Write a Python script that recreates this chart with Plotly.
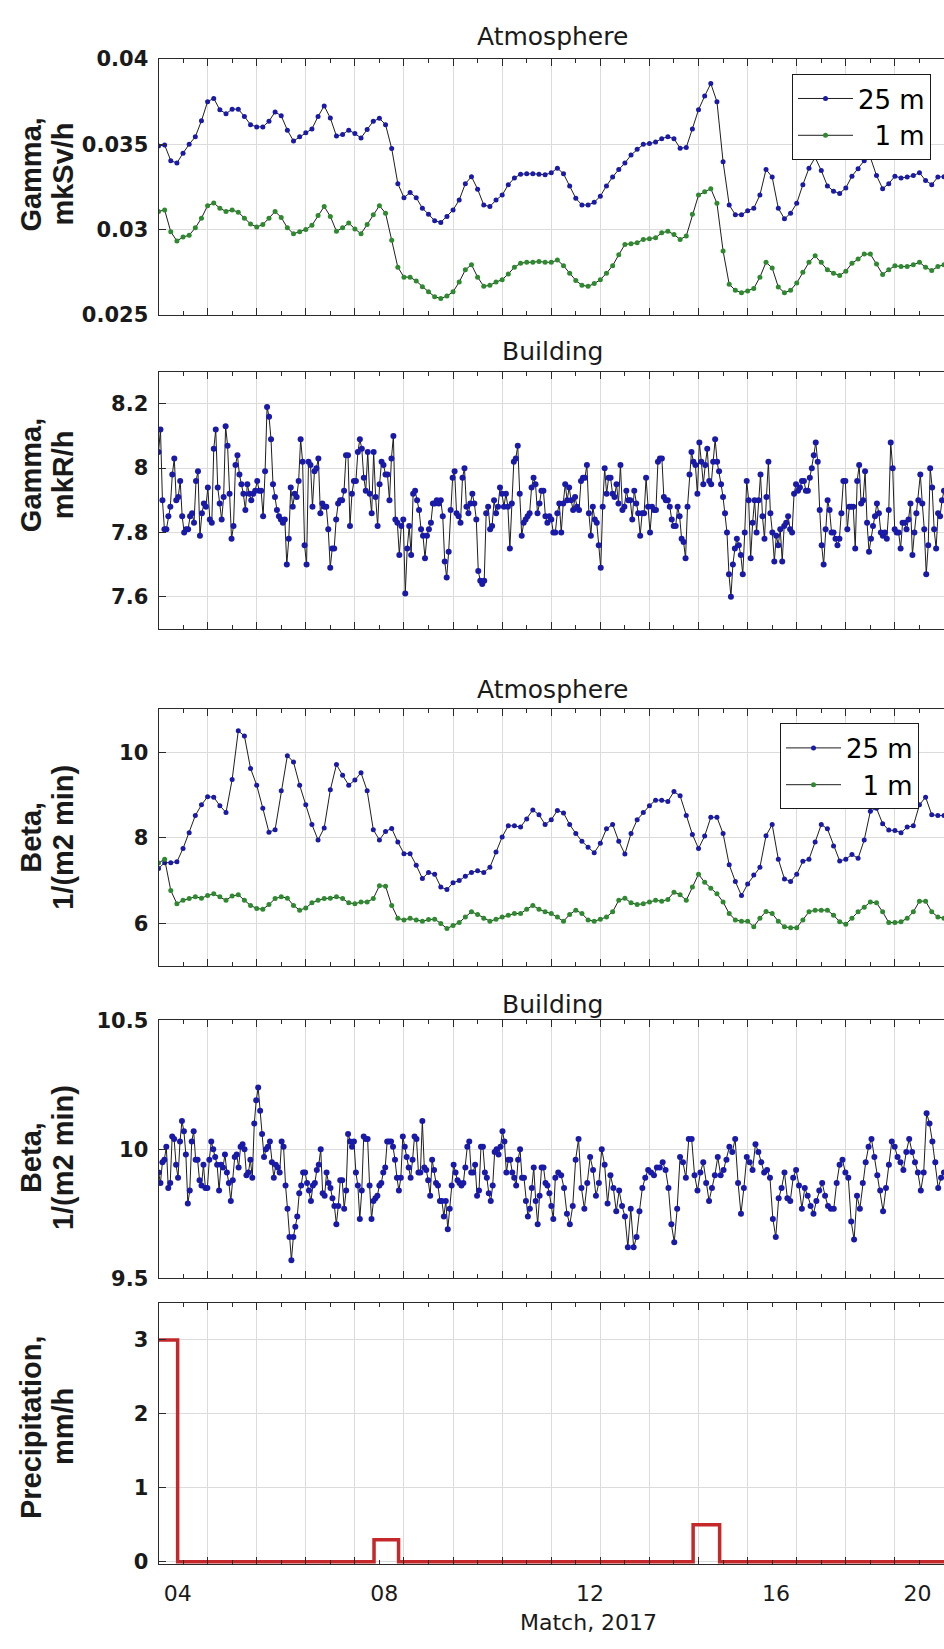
import numpy as np
import plotly.graph_objects as go

# ---------------- data ----------------
# 3-hourly series (days from the left edge, 0.125 d step)
gamma_atm_25m = [
    0.03490, 0.03496, 0.03404, 0.03390, 0.03448, 0.03500, 0.03544, 0.03638, 0.03750, 0.03769,
    0.03702, 0.03679, 0.03706, 0.03706, 0.03663, 0.03615, 0.03602, 0.03602, 0.03635, 0.03690,
    0.03667, 0.03583, 0.03519, 0.03544, 0.03567, 0.03590, 0.03663, 0.03725, 0.03654, 0.03548,
    0.03558, 0.03583, 0.03563, 0.03537, 0.03587, 0.03635, 0.03652, 0.03615, 0.03475, 0.03269,
    0.03187, 0.03217, 0.03187, 0.03125, 0.03090, 0.03052, 0.03042, 0.03077, 0.03115, 0.03173,
    0.03269, 0.03310, 0.03237, 0.03144, 0.03135, 0.03173, 0.03202, 0.03263, 0.03302, 0.03325,
    0.03327, 0.03327, 0.03325, 0.03321, 0.03333, 0.03360, 0.03327, 0.03256, 0.03183, 0.03144,
    0.03144, 0.03160, 0.03196, 0.03256, 0.03308, 0.03352, 0.03390, 0.03437, 0.03471, 0.03500,
    0.03504, 0.03513, 0.03533, 0.03544, 0.03533, 0.03477, 0.03481, 0.03590, 0.03702, 0.03783,
    0.03856, 0.03750, 0.03398, 0.03144, 0.03087, 0.03087, 0.03110, 0.03125, 0.03202, 0.03352,
    0.03308, 0.03125, 0.03063, 0.03096, 0.03154, 0.03263, 0.03360, 0.03423, 0.03346, 0.03256,
    0.03225, 0.03212, 0.03244, 0.03313, 0.03356, 0.03404, 0.03423, 0.03317, 0.03240, 0.03269,
    0.03313, 0.03302, 0.03308, 0.03317, 0.03333, 0.03288, 0.03263, 0.03308, 0.03310]
gamma_atm_1m = [
    0.03106, 0.03115, 0.02987, 0.02933, 0.02956, 0.02967, 0.03010, 0.03067, 0.03140, 0.03156,
    0.03125, 0.03106, 0.03115, 0.03102, 0.03067, 0.03033, 0.03015, 0.03029, 0.03067, 0.03106,
    0.03071, 0.03010, 0.02975, 0.02987, 0.03000, 0.03025, 0.03083, 0.03135, 0.03077, 0.02990,
    0.03010, 0.03038, 0.03004, 0.02975, 0.03029, 0.03087, 0.03140, 0.03096, 0.02937, 0.02779,
    0.02721, 0.02721, 0.02698, 0.02664, 0.02635, 0.02606, 0.02596, 0.02610, 0.02635, 0.02692,
    0.02764, 0.02794, 0.02721, 0.02667, 0.02673, 0.02692, 0.02706, 0.02740, 0.02779, 0.02802,
    0.02808, 0.02808, 0.02813, 0.02808, 0.02808, 0.02821, 0.02788, 0.02744, 0.02702, 0.02673,
    0.02667, 0.02683, 0.02706, 0.02744, 0.02788, 0.02852, 0.02913, 0.02917, 0.02923, 0.02942,
    0.02946, 0.02952, 0.02981, 0.02990, 0.02971, 0.02942, 0.02962, 0.03090, 0.03202, 0.03221,
    0.03240, 0.03154, 0.02875, 0.02679, 0.02644, 0.02629, 0.02640, 0.02654, 0.02721, 0.02808,
    0.02775, 0.02663, 0.02629, 0.02644, 0.02687, 0.02750, 0.02808, 0.02846, 0.02808, 0.02764,
    0.02744, 0.02731, 0.02756, 0.02802, 0.02827, 0.02856, 0.02856, 0.02798, 0.02737, 0.02764,
    0.02788, 0.02783, 0.02783, 0.02794, 0.02808, 0.02779, 0.02760, 0.02783, 0.02794]
beta_atm_25m = [
    7.28, 7.42, 7.42, 7.44, 7.75, 8.12, 8.52, 8.77, 8.96, 8.95,
    8.75, 8.59, 9.36, 10.50, 10.38, 9.62, 9.23, 8.69, 8.13, 8.19,
    9.10, 9.92, 9.77, 9.23, 8.77, 8.31, 7.95, 8.23, 9.12, 9.71,
    9.46, 9.23, 9.35, 9.52, 9.10, 8.19, 7.95, 8.15, 8.22, 7.90,
    7.63, 7.63, 7.36, 7.05, 7.19, 7.15, 6.85, 6.79, 6.95, 7.00,
    7.10, 7.19, 7.23, 7.19, 7.31, 7.67, 8.02, 8.28, 8.28, 8.25,
    8.44, 8.65, 8.54, 8.31, 8.42, 8.64, 8.58, 8.31, 8.10, 7.92,
    7.78, 7.65, 7.87, 8.21, 8.31, 7.92, 7.62, 8.10, 8.42, 8.59,
    8.75, 8.88, 8.88, 8.85, 9.08, 8.98, 8.52, 8.08, 7.75, 8.04,
    8.48, 8.48, 8.10, 7.37, 6.98, 6.65, 6.92, 7.13, 7.31, 8.05,
    8.31, 7.50, 7.04, 6.98, 7.15, 7.45, 7.50, 7.90, 8.31, 8.21,
    7.81, 7.46, 7.50, 7.61, 7.52, 7.95, 8.62, 8.69, 8.33, 8.18,
    8.17, 8.12, 8.25, 8.28, 8.77, 8.95, 8.54, 8.52, 8.52]
beta_atm_1m = [
    7.41, 7.50, 6.77, 6.46, 6.54, 6.58, 6.62, 6.59, 6.65, 6.69,
    6.62, 6.54, 6.64, 6.67, 6.54, 6.42, 6.35, 6.33, 6.44, 6.58,
    6.62, 6.59, 6.42, 6.31, 6.36, 6.48, 6.54, 6.58, 6.59, 6.62,
    6.58, 6.48, 6.46, 6.50, 6.50, 6.58, 6.88, 6.87, 6.42, 6.12,
    6.08, 6.12, 6.08, 6.05, 6.09, 6.10, 6.00, 5.88, 5.95, 6.02,
    6.15, 6.27, 6.21, 6.12, 6.05, 6.10, 6.15, 6.19, 6.23, 6.23,
    6.33, 6.42, 6.33, 6.27, 6.23, 6.15, 6.05, 6.21, 6.31, 6.23,
    6.08, 6.05, 6.10, 6.15, 6.27, 6.54, 6.59, 6.48, 6.44, 6.46,
    6.50, 6.54, 6.52, 6.56, 6.73, 6.67, 6.54, 6.85, 7.15, 6.96,
    6.82, 6.69, 6.50, 6.23, 6.08, 6.05, 6.05, 5.92, 6.12, 6.28,
    6.23, 6.05, 5.92, 5.90, 5.90, 6.08, 6.27, 6.31, 6.31, 6.31,
    6.19, 6.04, 5.98, 6.12, 6.27, 6.38, 6.50, 6.48, 6.27, 6.02,
    6.02, 6.04, 6.12, 6.27, 6.52, 6.52, 6.27, 6.15, 6.12]

# hourly building series (first and second half of the period)
gamma_bld_a = [
    8.05, 8.12, 7.90, 7.81, 7.81, 7.85, 7.88, 7.98, 8.03, 7.90,
    7.91, 7.96, 7.85, 7.80, 7.81, 7.81, 7.85, 7.86, 7.83, 7.96,
    7.99, 7.79, 7.86, 7.89, 7.88, 7.94, 7.84, 7.83, 8.06, 8.12,
    7.94, 7.89, 7.84, 7.91, 8.13, 8.07, 7.92, 7.78, 7.82, 8.01,
    8.04, 7.98, 7.95, 7.92, 7.87, 7.95, 7.92, 7.90, 7.92, 7.93,
    7.96, 7.93, 7.93, 7.85, 7.99, 8.19, 8.16, 8.09, 7.95, 7.91,
    7.87, 7.85, 7.84, 7.83, 7.84, 7.70, 7.78, 7.94, 7.88, 7.92,
    7.91, 7.96, 8.09, 8.02, 7.76, 7.70, 8.02, 8.01, 7.88, 7.99,
    8.00, 8.03, 7.86, 7.89, 7.88, 7.88, 7.81, 7.69, 7.75, 7.75,
    7.84, 7.89, 7.90, 7.90, 7.93, 8.04, 8.04, 7.82, 7.92, 7.96,
    7.96, 8.05, 8.09, 8.06, 7.97, 7.93, 8.05, 7.92, 7.86, 8.05,
    7.91, 7.82, 7.95, 8.02, 8.01, 7.98, 7.98, 7.90, 8.03, 8.10,
    7.84, 7.83, 7.73, 7.82, 7.84, 7.61, 7.75, 7.82, 7.73, 7.92,
    7.93, 7.90, 7.87, 7.81, 7.79, 7.72, 7.79, 7.81, 7.83, 7.89,
    7.89, 7.90, 7.89, 7.90, 7.85, 7.71, 7.66, 7.74, 7.87, 7.97,
    7.99, 7.86, 7.85, 7.83, 7.97, 8.00, 7.88, 7.86, 7.89, 7.92,
    7.89, 7.84, 7.68, 7.65, 7.64, 7.65, 7.86, 7.88, 7.81, 7.82,
    7.90, 7.86, 7.88, 7.94, 7.92, 7.88, 7.92, 7.88, 7.75, 7.89,
    8.02, 8.03, 8.07, 7.92, 7.79, 7.83, 7.84, 7.85, 7.86, 7.94,
    7.97, 7.95, 7.86, 7.89, 7.93, 7.93, 7.85, 7.83, 7.85, 7.84,
    7.80]
gamma_bld_b = [
    7.80, 7.86, 7.89, 7.80, 7.89, 7.95, 7.90, 7.94, 7.90, 7.87,
    7.91, 7.88, 7.87, 7.96, 7.97, 7.97, 8.01, 7.86, 7.79, 7.88,
    7.84, 7.83, 7.76, 7.69, 7.88, 8.00, 7.92, 7.97, 7.97, 7.92,
    7.91, 7.95, 7.89, 8.01, 7.87, 7.88, 7.93, 7.90, 7.90, 7.84,
    7.93, 7.89, 7.86, 7.79, 7.86, 7.86, 7.97, 7.88, 7.80, 7.88,
    7.87, 7.87, 8.02, 8.03, 8.03, 7.91, 7.90, 7.90, 7.88, 7.84,
    7.82, 7.82, 7.88, 7.85, 7.78, 7.77, 7.72, 7.88, 7.98, 8.05,
    8.02, 8.01, 7.92, 8.08, 8.02, 7.95, 8.01, 8.06, 7.96, 7.95,
    8.02, 8.09, 8.02, 7.99, 7.95, 7.91, 7.86, 7.80, 7.67, 7.60,
    7.70, 7.75, 7.78, 7.76, 7.73, 7.67, 7.80, 7.96, 7.90, 7.72,
    7.83, 7.90, 7.80, 7.90, 7.98, 7.85, 7.78, 7.91, 8.02, 7.86,
    7.80, 7.71, 7.79, 7.76, 7.81, 7.71, 7.82, 7.83, 7.85, 7.81,
    7.80, 7.92, 7.95, 7.93, 7.94, 7.96, 7.96, 7.93, 7.93, 7.97,
    8.00, 8.04, 8.08, 8.02, 7.87, 7.76, 7.70, 7.81, 7.90, 7.87,
    7.80, 7.80, 7.78, 7.76, 7.78, 7.86, 7.96, 7.96, 7.81, 7.88,
    7.88, 7.88, 7.75, 7.96, 8.01, 7.89, 7.90, 7.99, 7.83, 7.74,
    7.78, 7.82, 7.85, 7.89, 7.86, 7.80, 7.79, 7.80, 7.78, 7.87,
    8.08, 8.00, 7.81, 7.80, 7.80, 7.75, 7.83, 7.83, 7.81, 7.84,
    7.89, 7.73, 7.80, 7.86, 7.90, 7.98, 7.89, 7.81, 7.67, 7.76,
    8.00, 7.94, 7.81, 7.75, 7.86, 7.85, 7.90, 7.93]
beta_bld_a = [
    9.91, 9.87, 9.95, 9.96, 10.01, 9.85, 9.87, 10.05, 10.04, 9.94,
    9.89, 10.03, 10.11, 10.07, 9.98, 9.79, 9.84, 10.03, 10.07, 9.96,
    9.96, 9.88, 9.86, 9.94, 9.85, 9.85, 9.96, 10.03, 10.00, 9.97,
    9.94, 9.84, 9.94, 9.93, 9.98, 9.91, 9.87, 9.80, 9.88, 9.97,
    9.98, 9.93, 10.01, 10.02, 10.00, 9.90, 9.91, 9.96, 9.89, 10.10,
    10.19, 10.24, 10.15, 10.06, 9.97, 10.00, 10.01, 10.03, 9.95, 9.89,
    9.94, 9.93, 9.91, 10.03, 10.01, 9.86, 9.77, 9.66, 9.57, 9.66,
    9.70, 9.74, 9.83, 9.86, 9.91, 9.91, 9.87, 9.84, 9.80, 9.86,
    9.87, 9.92, 9.94, 10.00, 9.83, 9.82, 9.91, 9.87, 9.85, 9.81,
    9.78, 9.71, 9.78, 9.88, 9.88, 9.77, 9.84, 10.06, 10.03, 10.01,
    10.03, 9.91, 9.86, 9.73, 9.84, 10.05, 10.04, 10.04, 9.86, 9.73,
    9.80, 9.81, 9.82, 9.86, 9.87, 9.91, 9.93, 10.03, 10.03, 10.03,
    10.01, 9.96, 9.89, 9.84, 9.89, 10.05, 10.01, 9.97, 9.93, 9.89,
    9.96, 10.05, 10.04, 9.91, 9.91, 10.11, 9.93, 9.92, 9.88, 9.82,
    9.96, 9.92, 9.87, 9.86, 9.80, 9.80, 9.74, 9.80, 9.69, 9.77,
    9.86, 9.94, 9.91, 9.88, 9.87, 9.86, 9.87, 9.93, 10.01, 10.03,
    9.91, 9.91, 9.94, 9.82, 9.84, 10.01, 10.01, 9.91, 9.89, 9.83,
    9.80, 9.86, 9.99, 10.00, 9.98, 10.01, 10.07, 10.03, 9.91, 9.96,
    9.96, 9.91, 9.89, 9.86, 9.96, 10.00, 9.89, 9.89, 9.80, 9.74,
    9.77, 9.85, 9.93, 9.80, 9.71, 9.82, 9.93, 9.93, 9.87, 9.86,
    9.83, 9.78, 9.73]
beta_bld_b = [
    9.89, 9.91, 9.90, 9.85, 9.75, 9.71, 9.78, 9.96, 10.04, 9.85,
    9.77, 9.87, 9.97, 9.92, 9.82, 9.87, 10.00, 9.94, 9.79, 9.90,
    9.85, 9.76, 9.84, 9.78, 9.74, 9.62, 9.77, 9.62, 9.66, 9.76,
    9.85, 9.89, 9.92, 9.91, 9.90, 9.93, 9.93, 9.95, 9.92, 9.85,
    9.71, 9.64, 9.77, 9.97, 9.95, 9.89, 10.04, 10.04, 9.90, 9.84,
    9.91, 9.95, 9.87, 9.80, 9.85, 9.90, 9.97, 9.90, 9.92, 9.96,
    10.01, 9.99, 10.04, 9.87, 9.75, 9.85, 9.97, 9.95, 9.92, 10.02,
    9.99, 9.95, 9.91, 9.92, 9.89, 9.73, 9.66, 9.81, 9.85, 9.91,
    9.81, 9.80, 9.89, 9.92, 9.86, 9.77, 9.85, 9.82, 9.78, 9.75,
    9.80, 9.84, 9.87, 9.82, 9.78, 9.77, 9.77, 9.87, 9.94, 9.96,
    9.91, 9.89, 9.72, 9.65, 9.82, 9.77, 9.87, 9.95, 10.01, 10.04,
    9.97, 9.90, 9.84, 9.76, 9.85, 9.94, 10.03, 10.01, 9.97, 9.95,
    9.92, 9.99, 10.04, 9.99, 9.95, 9.91, 9.84, 9.91, 10.14, 10.10,
    10.03, 9.95, 9.85, 9.89, 9.91]

# precipitation (step), times in days from the left edge
precip_time = [0.0, 0.39, 4.39, 4.89, 10.89, 11.43, 16.0]
precip_mmh = [3.0, 0.0, 0.3, 0.0, 0.5, 0.0, 0.0]

# axis labels
date_tick_pos = [0.39, 4.60, 8.79, 12.58, 15.46]
date_tick_text = ["04", "08", "12", "16", "20"]
series_names = ["25 m", "\u20071 m"]

# ---------------- helpers ----------------
t3h = np.arange(len(gamma_atm_25m)) * 0.125


def hourly_days(first, second):
    return np.concatenate([np.linspace(0, 193, len(first)),
                           np.linspace(194, 384, len(second))]) / 24.0


W, H = 944, 1649
AX = "#2a2a2a"
GRID = "#dcdcdc"
LINE = "#1e1e1e"
BLUE = "#1a1aa8"
GREEN = "#2e8a2e"
RED = "#c4282a"
TICKFONT = dict(family="DejaVu Sans", size=21, color="#1a1a1a", weight="bold")


def py(px):
    return 1 - px / H


XDOM = [158.5 / W, 1.0]
panels = [(47.7, 307.3), (365, 626), (707.7, 968.3), (1023.3, 1285), (1310, 1575)]
yranges = [[0.025, 0.04], [7.5, 8.3], [5, 11], [9.5, 10.5], [-0.03, 3.5]]
yticks = [([0.025, 0.03, 0.035, 0.04], ["0.025", "0.03", "0.035", "0.04"]),
          ([7.6, 7.8, 8.0, 8.2], ["7.6", "7.8", "8", "8.2"]),
          ([6, 8, 10], ["6", "8", "10"]),
          ([9.5, 10, 10.5], ["9.5", "10", "10.5"]),
          ([0, 1, 2, 3], ["0", "1", "2", "3"])]

fig = go.Figure()


def add_series(x, y, k, color, name=None, legend=None, msize=5):
    fig.add_trace(go.Scatter(
        x=x, y=y, mode="lines+markers", name=name,
        line=dict(color=LINE, width=1),
        marker=dict(color=color, size=msize),
        xaxis=f"x{k}", yaxis=f"y{k}",
        showlegend=legend is not None, legend=legend or "legend",
        hoverinfo="skip"))


add_series(t3h, gamma_atm_25m, 1, BLUE, series_names[0], "legend")
add_series(t3h, gamma_atm_1m, 1, GREEN, series_names[1], "legend")
add_series(hourly_days(gamma_bld_a, gamma_bld_b), gamma_bld_a + gamma_bld_b, 2, BLUE, msize=6)
add_series(t3h, beta_atm_25m, 3, BLUE, series_names[0], "legend2")
add_series(t3h, beta_atm_1m, 3, GREEN, series_names[1], "legend2")
add_series(hourly_days(beta_bld_a, beta_bld_b), beta_bld_a + beta_bld_b, 4, BLUE, msize=6)
fig.add_trace(go.Scatter(x=precip_time, y=precip_mmh, mode="lines", line_shape="hv",
                         line=dict(color=RED, width=3.5), xaxis="x5", yaxis="y5",
                         showlegend=False, hoverinfo="skip"))
# carrier for the date labels axis
fig.add_trace(go.Scatter(x=[], y=[], xaxis="x6", yaxis="y5", showlegend=False))

layout = dict(width=W, height=H, margin=dict(l=0, r=0, t=0, b=0),
              plot_bgcolor="white", paper_bgcolor="white", hovermode=False)

for k, ((top, bot), yr, (tv, tt)) in enumerate(zip(panels, yranges, yticks), start=1):
    layout[f"xaxis{k}"] = dict(
        domain=XDOM, range=[0, 16], anchor=f"y{k}",
        tickmode="linear", tick0=0, dtick=1, ticks="inside", ticklen=7,
        tickcolor=AX, showgrid=True, gridcolor=GRID, gridwidth=1,
        showline=True, linecolor=AX, linewidth=1, mirror="ticks",
        showticklabels=False, zeroline=False,
        minor=dict(tick0=0, dtick=0.5, ticks="inside", ticklen=4,
                   tickcolor=AX, showgrid=False))
    layout[f"yaxis{k}"] = dict(
        domain=[py(bot), py(top)], range=yr, anchor=f"x{k}",
        tickmode="array", tickvals=tv, ticktext=tt, ticks="inside", ticklen=7,
        tickcolor=AX, showgrid=True, gridcolor=GRID, gridwidth=1,
        showline=True, linecolor=AX, linewidth=1, mirror=False,
        zeroline=False, tickfont=TICKFONT, ticklabelstandoff=5)

layout["xaxis6"] = dict(
    overlaying="x5", anchor="y5", range=[0, 16], side="bottom",
    tickmode="array", tickvals=date_tick_pos, ticktext=date_tick_text,
    ticks="", showgrid=False, showline=False, zeroline=False,
    tickfont=dict(family="DejaVu Sans", size=22, color="#1a1a1a"),
    ticklabelstandoff=14)

legend_common = dict(xanchor="right", yanchor="top", bgcolor="white",
                     bordercolor="#1a1a1a", borderwidth=1,
                     font=dict(family="DejaVu Sans", size=26, color="black"),
                     tracegroupgap=0, itemwidth=55)
layout["legend"] = dict(x=931 / W, y=py(63), **legend_common)
layout["legend2"] = dict(x=919 / W, y=py(722), **legend_common)

ann = []
for text, ypx in [("Atmosphere", 25), ("Building", 345), ("Atmosphere", 688), ("Building", 1007)]:
    ann.append(dict(text=text, x=552 / W, y=py(ypx), xref="paper", yref="paper",
                    xanchor="center", yanchor="middle", showarrow=False,
                    font=dict(family="DejaVu Sans", size=25, color="#1a1a1a")))
ylabels = [("Gamma,", "mkSv/h", 165), ("Gamma,", "mkR/h", 470),
           ("Beta,", "1/(m2 min)", 838), ("Beta,", "1/(m2 min)", 1163),
           ("Precipitation,", "mm/h", 1436)]
for l1, l2, ypx in ylabels:
    for txt, xpx in [(l1, 31), (l2, 63)]:
        ann.append(dict(text=txt, x=xpx / W, y=py(ypx), xref="paper", yref="paper",
                        xanchor="center", yanchor="middle", textangle=-90,
                        showarrow=False,
                        font=dict(family="Liberation Sans", size=29, color="#1a1a1a",
                                  weight="bold")))
ann.append(dict(text="Match, 2017", x=588 / W, y=py(1634), xref="paper", yref="paper",
                xanchor="center", yanchor="middle", showarrow=False,
                font=dict(family="DejaVu Sans", size=22, color="#1a1a1a")))
layout["annotations"] = ann

fig.update_layout(**layout)
fig.write_html("out.html", config={"displayModeBar": False},
               post_script="document.body.style.margin='0';")
